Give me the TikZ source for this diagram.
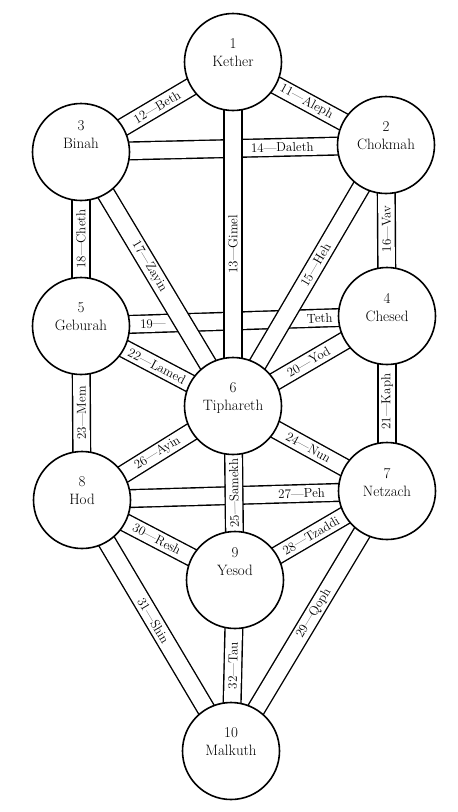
\documentclass[tikz,border=0pt]{standalone}
\usepackage{fontspec}
\usepackage{tikz}
\usetikzlibrary{backgrounds}
\newcommand\sefont{\fontsize{15}{18}\selectfont}
\newcommand\pathfont{\fontsize{13}{13}\selectfont}
\tikzset{sef/.style={draw,circle,line width=1.6pt,fill=white,minimum size=97pt,inner sep=0pt,align=center,font=\sefont,text depth=18pt},
  band/.style={line width=1.4pt,double=white,double distance=16.3pt},
  lbl/.style={sloped,allow upside down,inner sep=0pt,font=\pathfont}}
\begin{document}
\begin{tikzpicture}[x=1pt,y=-1pt]
\useasboundingbox(0,0)rectangle(458,812);
\node[sef](K)at(233,62){1\\Kether};
\node[sef](C)at(386,145){2\\Chokmah};\node[sef,text depth=34pt](B)at(81,152){3\\Binah};
\node[sef](Ch)at(387,316){4\\Chesed};\node[sef](G)at(81,326){5\\Geburah};
\node[sef](T)at(233,406){6\\Tiphareth};
\node[sef](N)at(387,491){7\\Netzach};\node[sef](H)at(82,500){8\\Hod};
\node[sef,text depth=36pt](Y)at(235,580){9\\Yesod};\node[sef](M)at(231,751){10\\Malkuth};
\begin{scope}[on background layer]
% horizontal paths go under the others
\draw[band](B.center)--node[lbl,pos=.66]{14---Daleth}(C.center);
\draw[band](G.center)--node[lbl,pos=.235]{19---}node[lbl,pos=.78]{Teth}(Ch.center);
\draw[band](H.center)--node[lbl,pos=.72]{27---Peh}(N.center);
\foreach\a/\b/\p/\t in{K/C/.48/11---Aleph,B/K/.5/12---Beth,T/K/.47/13---Gimel,T/C/.54/15---Heh,
  Ch/C/.51/16---Vav,B/T/.45/17---Zayin,G/B/.5/18---Cheth,T/Ch/.49/20---Yod,N/Ch/.51/21---Kaph,
  G/T/.5/22---Lamed,H/G/.5/23---Mem,T/N/.49/24---Nun,Y/T/.5/25---Samekh,H/T/.5/26---Ayin,
  Y/N/.5/28---Tzaddi,M/N/.53/29---Qoph,H/Y/.49/30---Resh,H/M/.48/31---Shin,M/Y/.5/32---Tau}
  \draw[band](\a.center)--node[lbl,pos=\p]{\t}(\b.center);
\end{scope}
\end{tikzpicture}
\end{document}
